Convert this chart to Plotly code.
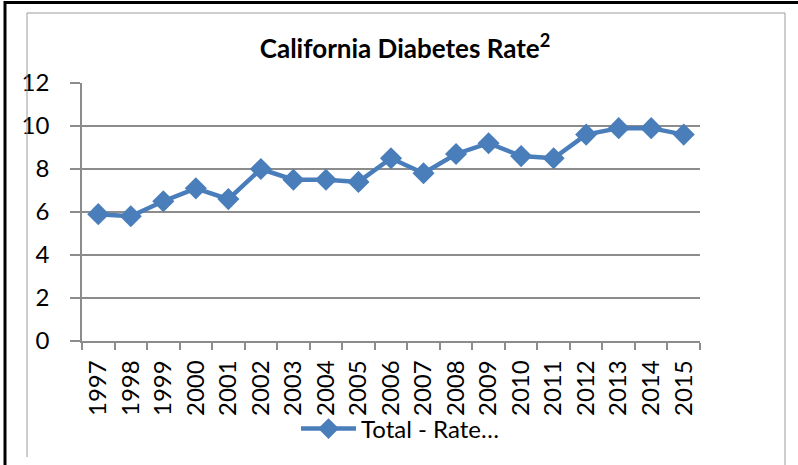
import plotly.graph_objects as go

years = ["1997", "1998", "1999", "2000", "2001", "2002", "2003", "2004", "2005", "2006",
         "2007", "2008", "2009", "2010", "2011", "2012", "2013", "2014", "2015"]
rate = [5.9, 5.8, 6.5, 7.1, 6.6, 8.0, 7.5, 7.5, 7.4, 8.5,
        7.8, 8.7, 9.2, 8.6, 8.5, 9.6, 9.9, 9.9, 9.6]
series_name = "Total - Rate…"
title_text = "California Diabetes Rate<sup>2</sup>"

W, H = 798, 465
L, R, T, B = 82, 700, 83, 341

def px(x):
    return (x - L) / (R - L)

def py(y):
    return (B - y) / (B - T)

FONT = "Lato"
BLUE = "#4A7EBB"
GRID = "#8C8C8C"

fig = go.Figure()
fig.add_trace(go.Scatter(
    x=years, y=rate, mode="lines+markers", name=series_name,
    line=dict(color=BLUE, width=4.5),
    marker=dict(symbol="diamond", size=17, color=BLUE),
    showlegend=True,
))

shapes = [
    dict(type="line", xref="paper", yref="paper", x0=px(5), x1=px(5), y0=py(1), y1=py(470),
         line=dict(color="black", width=3)),
    dict(type="line", xref="paper", yref="paper", x0=px(4), x1=px(805), y0=py(2.5), y1=py(2.5),
         line=dict(color="black", width=3)),
    dict(type="line", xref="paper", yref="paper", x0=px(27), x1=px(27), y0=py(13), y1=py(457),
         line=dict(color="#9A9A9A", width=1)),
    dict(type="line", xref="paper", yref="paper", x0=px(27), x1=px(785), y0=py(13), y1=py(13),
         line=dict(color="#9A9A9A", width=1)),
    dict(type="line", xref="paper", yref="paper", x0=px(785), x1=px(785), y0=py(13), y1=py(470),
         line=dict(color="#9A9A9A", width=1)),
]

fig.update_layout(
    width=W, height=H,
    margin=dict(l=L, r=W - R, t=T, b=H - B, pad=0),
    paper_bgcolor="white", plot_bgcolor="white",
    font=dict(family=FONT, size=24, color="black"),
    title=dict(text=title_text, x=px(405), xref="paper", xanchor="center",
               y=1 - 49 / H, yanchor="middle",
               font=dict(family=FONT, size=26, color="black", weight="bold")),
    xaxis=dict(
        type="category", tickson="boundaries", ticks="outside", ticklen=7,
        tickcolor=GRID, tickwidth=1.5, showgrid=False,
        showline=True, linecolor=GRID, linewidth=1.5,
        tickangle=-90, tickfont=dict(family=FONT, size=24), range=[-0.5, 18.5],
        ticklabelstandoff=8,
    ),
    yaxis=dict(
        range=[0, 12], dtick=2, tick0=0, ticks="outside", ticklen=10,
        tickcolor=GRID, tickwidth=1.5, showgrid=True, gridcolor=GRID, gridwidth=1.5,
        showline=True, linecolor=GRID, linewidth=1.5, zeroline=False,
        tickfont=dict(family=FONT, size=24), ticklabelstandoff=16,
    ),
    legend=dict(orientation="h", x=px(296), xanchor="left", y=py(429), yanchor="middle",
                font=dict(family=FONT, size=24), bgcolor="rgba(0,0,0,0)", itemwidth=55),
    shapes=shapes,
)

fig.write_html("out.html", config={"displayModeBar": False},
               post_script="document.body.style.margin='0';document.body.style.padding='0';")
